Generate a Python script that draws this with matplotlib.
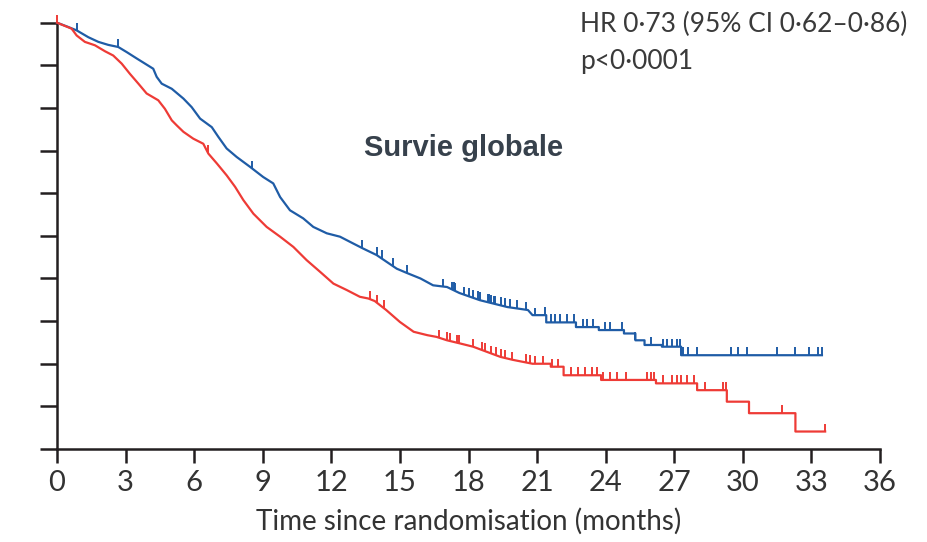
import numpy as np
import matplotlib
matplotlib.use('Agg')
import matplotlib.pyplot as plt
from matplotlib.path import Path

# Kaplan-Meier curves (months, survival fraction)
blue_t = [0, 0.49, 0.86, 1.37, 1.81, 2.24, 2.68, 3.05, 3.49, 3.85, 4.21, 4.36, 4.58,
          5.02, 5.53, 5.89, 6.26, 6.77, 7.06, 7.42, 7.86, 8.44, 9.02, 9.46, 9.76,
          10.19, 10.77, 11.21, 11.8, 12.38, 12.96, 13.4, 13.98, 14.42, 14.86, 15.3,
          15.9, 16.45, 17.06, 17.6, 18.5, 19.7, 20.6, 20.8, 21.4, 22.7, 23.7, 24.8,
          25.3, 25.7, 26.46, 27.3, 33.46]
blue_s = [1.0, 0.99, 0.982, 0.966, 0.955, 0.948, 0.943, 0.931, 0.916, 0.904, 0.892,
          0.873, 0.857, 0.845, 0.822, 0.802, 0.775, 0.755, 0.732, 0.705, 0.685, 0.662,
          0.638, 0.623, 0.591, 0.56, 0.541, 0.521, 0.506, 0.498, 0.482, 0.47, 0.455,
          0.439, 0.423, 0.413, 0.4, 0.384, 0.38, 0.366, 0.349, 0.333, 0.326, 0.314,
          0.297, 0.286, 0.279, 0.271, 0.255, 0.244, 0.24, 0.22, 0.22]

red_t = [0, 0.64, 0.86, 1.22, 1.66, 2.1, 2.46, 2.83, 3.19, 3.56, 3.92, 4.43, 4.72,
         5.02, 5.24, 5.53, 5.96, 6.4, 6.62, 6.99, 7.42, 7.79, 8.15, 8.59, 9.17, 9.76,
         10.34, 10.92, 11.5, 12.09, 12.67, 13.25, 13.62, 13.9, 14.4, 15.0, 15.6, 16.2,
         16.6, 17.06, 17.6, 18.2, 18.8, 19.4, 19.95, 20.8, 21.6, 22.16, 23.8, 26.2,
         28.0, 29.3, 30.27, 32.3, 33.6]
red_s = [1.0, 0.986, 0.97, 0.955, 0.947, 0.933, 0.923, 0.904, 0.88, 0.857, 0.834,
         0.818, 0.798, 0.771, 0.759, 0.744, 0.728, 0.716, 0.693, 0.67, 0.642, 0.615,
         0.584, 0.552, 0.521, 0.498, 0.474, 0.443, 0.416, 0.388, 0.373, 0.357, 0.353,
         0.347, 0.326, 0.298, 0.275, 0.267, 0.263, 0.255, 0.248, 0.24, 0.228, 0.216,
         0.209, 0.2, 0.193, 0.173, 0.162, 0.154, 0.138, 0.111, 0.084, 0.041, 0.041]

# censoring marks
blue_cens = [0.87, 2.67, 8.55, 13.35, 14.0, 14.2, 14.7, 15.3, 16.9, 17.3, 17.35, 17.4,
             17.8, 18.0, 18.2, 18.4, 18.5, 18.85, 18.9, 19.0, 19.1, 19.15, 19.4, 19.6,
             19.8, 20.1, 20.5, 20.9, 21.35, 21.6, 21.8, 22.0, 22.3, 22.6, 23.0, 23.2,
             23.45, 23.97, 24.2, 24.7, 25.3, 26.0, 26.5, 26.7, 26.9, 27.1, 27.25, 27.4,
             27.6, 28.0, 29.5, 29.8, 30.2, 31.5, 32.3, 32.9, 33.3, 33.45]
red_cens = [0.0, 6.6, 13.7, 14.0, 14.3, 16.7, 17.05, 17.2, 17.5, 17.6, 18.2, 18.6, 18.7,
            19.0, 19.2, 19.4, 19.6, 19.9, 20.5, 20.7, 20.9, 21.25, 21.65, 21.9, 22.5,
            22.8, 23.1, 23.4, 23.6, 23.9, 24.2, 24.5, 24.9, 25.8, 26.0, 26.1, 26.5,
            26.9, 27.1, 27.3, 27.55, 27.85, 28.35, 29.15, 29.25, 31.7, 33.6]

xticks = np.arange(0, 37, 3)
yticks = np.arange(0, 1.01, 0.1)

BLUE = '#1f5ca6'
RED = '#ee3b36'
AX = '#231f20'
TXT = '#333333'
fam = ['Lato', 'DejaVu Sans']
STEP_FROM = 21.0   # beyond this the curves are drawn as plain steps


def km_path(t, s):
    # dense early part is joined directly, sparse tail drawn as steps
    xs, ys = [t[0]], [s[0]]
    for i in range(1, len(t)):
        if t[i] >= STEP_FROM:
            xs.append(t[i]); ys.append(s[i - 1])
        xs.append(t[i]); ys.append(s[i])
    return xs, ys


def value_at(t, s, x):
    if x < STEP_FROM:
        return np.interp(x, t, s)
    return s[np.searchsorted(t, x, side='right') - 1]


fig = plt.figure(figsize=(9.27, 5.42), dpi=100)
ax = fig.add_axes([57/927, 93/542, (880-57)/927, (449-22.7)/542])

tick_up = Path([(0, 0), (0, 1)])
for t, s, c, col in [(blue_t, blue_s, blue_cens, BLUE), (red_t, red_s, red_cens, RED)]:
    xs, ys = km_path(t, s)
    ax.plot(xs, ys, color=col, lw=1.6, clip_on=False, zorder=3)
    cy = [value_at(t, s, x) for x in c]
    ax.plot(c, cy, ls='none', marker=tick_up, ms=12, mew=1.4,
            color=col, clip_on=False, zorder=3)

ax.set_xlim(0, 36)
ax.set_ylim(0, 1)
ax.set_xticks(xticks)
ax.set_xticklabels([str(v) for v in xticks], family=fam, fontsize=21, color=TXT)
ax.set_yticks(yticks)
ax.set_yticklabels([])
ax.tick_params(axis='x', direction='out', length=10, width=1.8, color=AX, pad=5)
ax.tick_params(axis='y', direction='out', length=12, width=1.8, color=AX)
for side in ['top', 'right']:
    ax.spines[side].set_visible(False)
for side in ['left', 'bottom']:
    ax.spines[side].set_linewidth(1.8)
    ax.spines[side].set_color(AX)

ax.set_xlabel('Time since randomisation (months)', family=fam, fontsize=20,
              color=TXT, labelpad=9)

fig.text(580/927, 1 - 24/542, 'HR 0·73 (95% CI 0·62–0·86)', family=fam, fontsize=19,
         color='#3a3a3a', va='center', ha='left')
fig.text(580/927, 1 - 62/542, 'p<0·0001', family=fam, fontsize=19,
         color='#3a3a3a', va='center', ha='left')
fig.text(464/927, 1 - 148/542, 'Survie globale', family=['Liberation Sans', 'DejaVu Sans'],
         fontsize=21, fontweight='bold', color='#37414c', va='center', ha='center')

fig.savefig('out.png', dpi=100)
